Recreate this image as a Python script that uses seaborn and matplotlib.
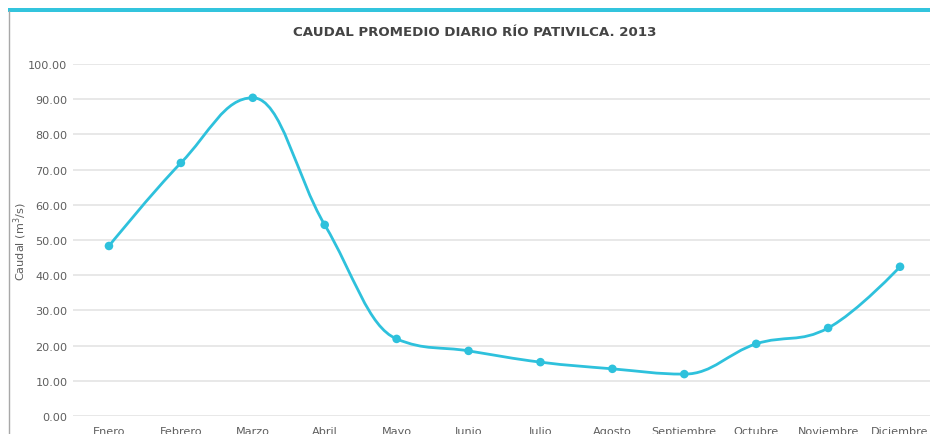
import matplotlib

matplotlib.use("Agg")

import matplotlib.pyplot as plt
import pandas as pd
import seaborn as sns
from matplotlib.patches import PathPatch, Rectangle
from matplotlib.path import Path
from matplotlib.lines import Line2D

# values
months = ["Enero", "Febrero", "Marzo", "Abril", "Mayo", "Junio", "Julio",
          "Agosto", "Septiembre", "Octubre", "Noviembre", "Diciembre"]
caudal = [48.3, 71.9, 90.4, 54.3, 21.9, 18.5, 15.3, 13.4, 11.9, 20.5, 25.0, 42.4]
y_ticks = [0, 10, 20, 30, 40, 50, 60, 70, 80, 90, 100]

title = "CAUDAL PROMEDIO DIARIO RÍO PATIVILCA. 2013"
y_label = "Caudal (m$^3$/s)"

LINE = "#2ec1dc"
TEXT = "#5e5e5e"


def spline_path(xs, ys, smoothing=1.5):
    # highcharts-like spline control points, the curve itself is drawn by matplotlib
    denom = smoothing + 1
    n = len(xs)
    left = [None] * n
    right = [None] * n
    for i in range(1, n - 1):
        lx, ly = xs[i - 1], ys[i - 1]
        px, py = xs[i], ys[i]
        nx, ny = xs[i + 1], ys[i + 1]
        lcx = (smoothing * px + lx) / denom
        lcy = (smoothing * py + ly) / denom
        rcx = (smoothing * px + nx) / denom
        rcy = (smoothing * py + ny) / denom
        if rcx != lcx:
            corr = ((rcy - lcy) * (rcx - px)) / (rcx - lcx) + py - rcy
            lcy += corr
            rcy += corr
        if lcy > max(ly, py):
            lcy = max(ly, py)
            rcy = 2 * py - lcy
        elif lcy < min(ly, py):
            lcy = min(ly, py)
            rcy = 2 * py - lcy
        if rcy > max(py, ny):
            rcy = max(py, ny)
            lcy = 2 * py - rcy
        elif rcy < min(py, ny):
            rcy = min(py, ny)
            lcy = 2 * py - rcy
        left[i] = (lcx, lcy)
        right[i] = (rcx, rcy)
    verts = [(xs[0], ys[0])]
    codes = [Path.MOVETO]
    for i in range(1, n):
        c1 = right[i - 1] or (xs[i - 1], ys[i - 1])
        c2 = left[i] or (xs[i], ys[i])
        verts += [c1, c2, (xs[i], ys[i])]
        codes += [Path.CURVE4] * 3
    return Path(verts, codes)


def main() -> None:
    sns.set_theme(style="white")
    plt.rcParams["font.family"] = ["DejaVu Sans"]

    data = pd.DataFrame({"mes": months, "caudal": caudal})
    data["pos"] = range(len(data))

    fig = plt.figure(figsize=(9.3, 4.35), dpi=100)
    ax = fig.add_axes([73 / 930, 1 - 417 / 435, 863 / 930, 352 / 435])

    ax.add_patch(PathPatch(spline_path(list(data["pos"]), list(data["caudal"])),
                           facecolor="none", edgecolor=LINE, linewidth=2.0,
                           capstyle="round", joinstyle="round", zorder=3))
    sns.scatterplot(data=data, x="pos", y="caudal", ax=ax, color=LINE, s=38,
                    edgecolor="none", zorder=4, legend=False)

    ax.set_xlim(-0.5, len(months) - 0.5)
    ax.set_ylim(0, 100)
    ax.set_yticks(y_ticks)
    ax.set_yticklabels([f"{v:.2f}" for v in y_ticks])
    ax.set_xticks(range(len(months)))
    ax.set_xticklabels(months)
    ax.grid(axis="y", color="#e2e2e2", linewidth=1.1)
    ax.set_axisbelow(True)
    for side in ax.spines.values():
        side.set_visible(False)
    ax.tick_params(axis="y", length=0, pad=4, labelsize=8.1, labelcolor=TEXT)
    ax.tick_params(axis="x", length=0, pad=7, labelsize=8.1, labelcolor=TEXT)
    ax.set_xlabel("")
    ax.set_ylabel("")

    fig.text(20 / 930, 1 - 242 / 435, y_label, rotation=90, ha="center", va="center",
             fontsize=8.1, color=TEXT)
    fig.text(475 / 930, 1 - 33 / 435, title, ha="center", va="center",
             fontsize=9.6, fontweight="bold", color="#444444")

    # card frame: cyan top band and gray left border
    fig.add_artist(Rectangle((8 / 930, 1 - 12.5 / 435), 1, 3.5 / 435,
                             transform=fig.transFigure, color="#33c4dd", lw=0))
    fig.add_artist(Line2D([8.5 / 930, 8.5 / 930], [0, 1 - 12 / 435],
                          transform=fig.transFigure, color="#a8a8a8", lw=1))

    fig.savefig("out.png", dpi=100)
    plt.close(fig)


if __name__ == "__main__":
    main()
